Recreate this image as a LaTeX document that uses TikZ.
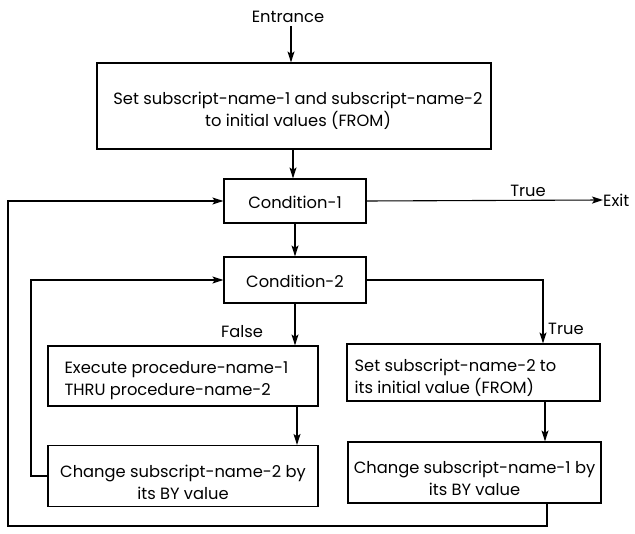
\documentclass[tikz,border=0pt]{standalone}
\usepackage{fontspec}
\setmainfont{Poppins}
\usetikzlibrary{arrows.meta}

\tikzset{
  box/.style={draw, line width=1.2pt, inner sep=0pt},
  txt/.style={inner sep=0pt, font=\fontsize{16.3}{22}\selectfont},
  lbl/.style={inner sep=0pt, font=\fontsize{16.3}{22}\selectfont},
  flow/.style={line width=1.1pt, -{Stealth[length=11pt,width=7pt,inset=2.5pt]}},
  plain/.style={line width=1.1pt}
}

\begin{document}
\begin{tikzpicture}[x=1pt, y=-1pt]
  \useasboundingbox (0,0) rectangle (635,534);

  % entry and initialisation
  \node[lbl] (entr) at (288,17) {Entrance};
  \node[box, minimum width=394pt, minimum height=86pt] (init) at (294,106) {};
  \node[txt, align=center] (initT) at ([xshift=4pt,yshift=-5pt]init.center)
    {Set subscript-name-1 and subscript-name-2\\to initial values (FROM)};

  % the two tests
  \node[box, minimum width=142pt, minimum height=44pt] (cond1) at (295,201) {};
  \node[txt] (cond1T) at ([yshift=-1pt]cond1.center) {Condition-1};
  \node[box, minimum width=142pt, minimum height=46pt] (cond2) at (295,280) {};
  \node[txt] (cond2T) at ([yshift=-1pt]cond2.center) {Condition-2};

  % inner branch (False)
  \node[box, minimum width=270pt, minimum height=60pt] (exec) at (183,376) {};
  \node[txt, align=left, anchor=west] (execT) at ([xshift=17pt,yshift=-5pt]exec.west)
    {Execute procedure-name-1\\THRU procedure-name-2};
  \node[box, minimum width=270pt, minimum height=61pt] (chg2) at (183,476) {};
  \node[txt, align=center] (chg2T) at ([yshift=-6pt]chg2.center)
    {Change subscript-name-2 by\\its BY value};

  % outer branch (True)
  \node[box, minimum width=253pt, minimum height=57pt] (reset) at (473.5,372.5) {};
  \node[txt, align=left, anchor=west] (resetT) at ([xshift=8pt,yshift=-5pt]reset.west)
    {Set subscript-name-2 to\\its initial value (FROM)};
  \node[box, minimum width=253pt, minimum height=61pt] (chg1) at (474.5,472.5) {};
  \node[txt, align=center] (chg1T) at ([yshift=-6pt]chg1.center)
    {Change subscript-name-1 by\\its BY value};

  % exit and branch labels
  \node[lbl, anchor=west] (exit) at (603,200) {Exit};
  \node[lbl] (t1) at (528,191) {True};
  \node[lbl, anchor=west] (t2) at (548,329) {True};
  \node[lbl] (f2) at (242,332) {False};

  % straight flow
  \draw[flow] (entr.south -| 291,0) ++(0,3) -- (init.north -| 291,0);
  \draw[flow] (init.south -| 293,0) -- (cond1.north -| 293,0);
  \draw[flow] (cond1.south) -- (cond2.north);
  \draw[flow] (cond1.east) -- (exit.west);
  \draw[flow] (cond2.south) -- (exec.north -| cond2.south);
  \draw[flow] (exec.south -| 297,0) -- (chg2.north -| 297,0);
  \draw[flow] (cond2.east) -| (reset.north -| 543,0);
  \draw[flow] (reset.south -| 545,0) -- (chg1.north -| 545,0);

  % inner loop back to Condition-2
  \coordinate (in1) at (31,476);
  \draw[flow] (chg2.west) -- (in1) |- (cond2.west);

  % outer loop back to Condition-1
  \coordinate (out1) at (547,526);
  \coordinate (out2) at (8,526);
  \draw[flow] (chg1.south -| out1) -- (out1) -- (out2) |- (cond1.west);
\end{tikzpicture}
\end{document}
